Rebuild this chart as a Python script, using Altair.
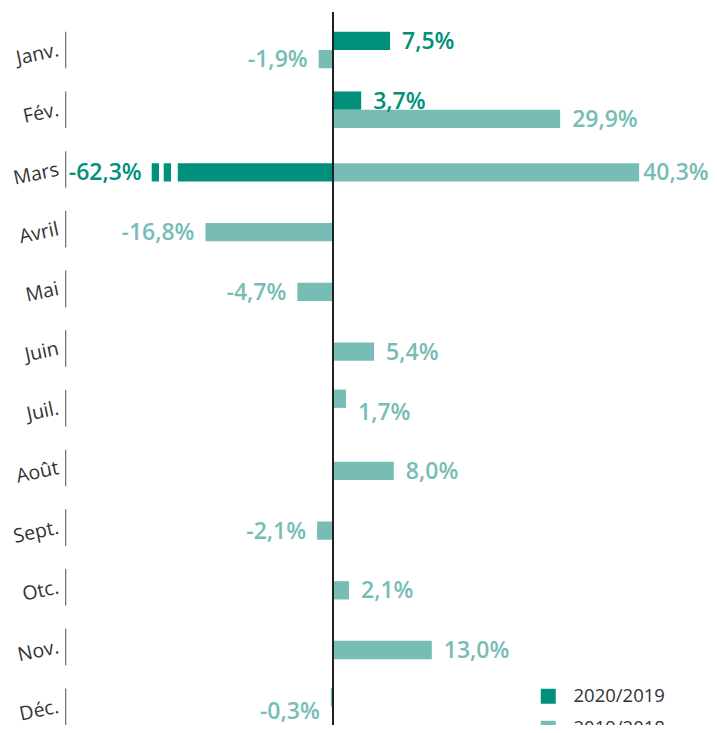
import altair as alt
import pandas as pd

months = ["Janv.", "Fév.", "Mars", "Avril", "Mai", "Juin", "Juil.", "Août",
          "Sept.", "Otc.", "Nov.", "Déc."]
series_names = ["2020/2019", "2019/2018"]
v2020 = [7.5, 3.7, -62.3, None, None, None, None, None, None, None, None, None]
v2019 = [-1.9, 29.9, 40.3, -16.8, -4.7, 5.4, 1.7, 8.0, -2.1, 2.1, 13.0, -0.3]

# layout helpers
paired_months = ["Janv.", "Fév."]          # rows where the two bars are stacked
low_label_months = ["Juil.", "Déc."]        # bar raised, label printed below it
tight_label_months = ["Mars"]               # label pulled closer to the bar end
axis_break_at = -23.88                      # truncated display end for Mars 2020
break_gaps = [(-22.92, -22.30), (-21.34, -20.45)]

colors = ["#00907b", "#77bdb6"]
FONT = "Open Sans"


def fmt(v):
    return f"{v:.1f}".replace(".", ",") + "%"


rows = []
for m, a, b in zip(months, v2020, v2019):
    for s, v in zip(series_names, [a, b]):
        if v is None:
            continue
        shown = max(v, axis_break_at)
        slot = ("top" if s == series_names[0] else "bot") if m in paired_months else "mid"
        rows.append(dict(month=m, series=s, value=v, shown=shown, label=fmt(v),
                         slot=slot, low=m in low_label_months,
                         tight=m in tight_label_months))
df = pd.DataFrame(rows)
gaps = pd.DataFrame([dict(month="Mars", g0=g[0], g1=g[1]) for g in break_gaps])
band_df = pd.DataFrame({"month": months})

xscale = alt.Scale(domain=[-35.3, 49.5], nice=False, zero=False)
yscale = alt.Scale(domain=months, paddingInner=0.387, paddingOuter=0.1655, align=1)
cscale = alt.Scale(domain=series_names, range=colors)

y_enc = alt.Y("month:N", scale=yscale, sort=months,
              axis=alt.Axis(title=None, labelAngle=348, labelFontSize=19.5, labelColor="#333333",
                            labelPadding=7, ticks=False, domain=False, labelFont=FONT,
                            labelAlign="right", labelBaseline="middle"))
color_enc = alt.Color("series:N", scale=cscale,
                      legend=alt.Legend(title=None, orient="none", legendX=474, legendY=675,
                                        symbolType="square", symbolSize=225, symbolStrokeWidth=0,
                                        labelFontSize=18.5, labelColor="#333333", labelFont=FONT,
                                        rowPadding=13, labelOffset=16, padding=0))
yoff = alt.YOffset("slot:N", scale=alt.Scale(domain=["top", "bot"], paddingInner=0, paddingOuter=0))
x_enc = alt.X("shown:Q", scale=xscale, axis=None, stack=None)

band_lines = alt.Chart(band_df).mark_rect(color="#777777").encode(
    x=alt.value(0), x2=alt.value(1.3), y=y_enc)

paired = df[df.slot != "mid"]
centered = df[(df.slot == "mid") & (~df.low)]
centered_low = df[(df.slot == "mid") & (df.low)]

bars_paired = alt.Chart(paired).mark_bar().encode(
    y=y_enc, yOffset=yoff, x=x_enc, color=color_enc)

bars_center = alt.Chart(centered).mark_bar(
    height=alt.RelativeBandSize(band=0.5), yOffset=3).encode(
    y=y_enc, x=x_enc, color=color_enc)

bars_center_low = alt.Chart(centered_low).mark_bar(
    height=alt.RelativeBandSize(band=0.5), yOffset=-9.5).encode(
    y=y_enc, x=x_enc, color=color_enc)

gap_rects = alt.Chart(gaps).mark_rect(color="white").encode(
    y=y_enc, x=alt.X("g0:Q", scale=xscale, axis=None), x2="g1:Q")


def text_layer(data, align, dx, dy, offset):
    if len(data) == 0:
        return None
    enc = dict(y=y_enc, x=alt.X("shown:Q", scale=xscale, axis=None),
               text="label:N", color=color_enc)
    if offset:
        enc["yOffset"] = yoff
    return alt.Chart(data).mark_text(align=align, baseline="middle", dx=dx, dy=dy,
                                     fontSize=23, fontWeight=600, font=FONT).encode(**enc)


texts = []
for sub, off, dy in [(paired, True, 1), (centered, False, 4), (centered_low, False, 5)]:
    for pos in [True, False]:
        for tight in [False, True]:
            d = sub[((sub.value >= 0) == pos) & (sub.tight == tight)]
            if pos:
                t = text_layer(d, "left", 4 if tight else 12, dy, off)
            else:
                t = text_layer(d, "right", -10 if tight else -11, dy, off)
            if t is not None:
                texts.append(t)

zero_rule = alt.Chart(band_df).mark_rule(color="#222222", strokeWidth=1.5).encode(
    x=alt.datum(0, scale=xscale), y=alt.value(0), y2=alt.value(721))

chart = alt.layer(band_lines, bars_paired, bars_center, bars_center_low, gap_rects,
                  *texts, zero_rule).properties(
    width=644, height=713,
    autosize=alt.AutoSizeParams(type="none"),
    padding={"left": 57, "top": 4, "right": 0, "bottom": 0},
).configure_view(stroke=None)

chart.save("out.html", embed_options={"renderer": "svg", "actions": False})
